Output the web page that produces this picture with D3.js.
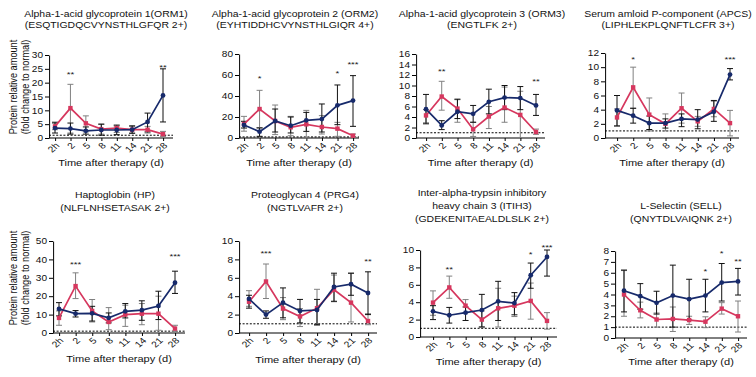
<!DOCTYPE html>
<html>
<head>
<meta charset="utf-8">
<script src="https://cdn.jsdelivr.net/npm/d3@7"></script>
<style>
body { margin: 0; background: #fff; }
svg { display: block; font-family: "Liberation Sans", Arial, Helvetica, sans-serif; fill: #111; }
.axis path, .axis line, .stroke { vector-effect: non-scaling-stroke; }
</style>
</head>
<body>
<div id="chart"></div>
<script>
var days = ["2h", "2", "5", "8", "11", "14", "21", "28"];

var titles = [
    ["Alpha-1-acid glycoprotein 1(ORM1)", "(ESQTIGDQCVYNSTHLGFQR 2+)"],
    ["Alpha-1-acid glycoprotein 2 (ORM2)", "(EYHTIDDHCVYNSTHLGIQR 4+)"],
    ["Alpha-1-acid glycoprotein 3 (ORM3)", "(ENGTLFK 2+)"],
    ["Serum amloid P-component (APCS)", "(LIPHLEKPLQNFTLCFR 3+)"],
    ["Haptoglobin (HP)", "(NLFLNHSETASAK 2+)"],
    ["Proteoglycan 4 (PRG4)", "(NGTLVAFR 2+)"],
    ["Inter-alpha-trypsin inhibitory", "heavy chain 3 (ITIH3)", "(GDEKENITAEALDLSLK 2+)"],
    ["L-Selectin (SELL)", "(QNYTDLVAIQNK 2+)"]
];

var yMax  = [30, 80, 16, 12, 50, 10, 10, 8];
var yStep = [5, 20, 2, 2, 10, 2, 2, 1];

// red series
var redMean = [
    [4.2, 10.8, 5.3, 3.2, 3.6, 3.0, 3.0, 1.4],
    [13.3, 27.6, 16.2, 10.2, 13.0, 10.5, 8.9, 2.2],
    [4.3, 7.9, 5.6, 1.65, 4.1, 5.8, 4.4, 1.15],
    [2.9, 7.15, 3.3, 2.0, 4.2, 2.35, 4.1, 2.1],
    [8.2, 25.5, 12.0, 6.0, 10.0, 10.5, 10.5, 2.4],
    [3.4, 5.6, 2.65, 1.8, 2.7, 4.7, 3.3, 1.3],
    [3.95, 5.7, 3.6, 2.0, 3.3, 3.6, 4.15, 1.85],
    [4.0, 2.55, 1.7, 1.75, 1.65, 1.5, 2.7, 2.0]
];
var redHi = [
    [5.3, 19.4, 8.0, 5.0, 4.8, 4.2, 4.2, 2.4],
    [20.6, 45.4, 31.4, 20.6, 26.3, 21.3, 14.9, 3.8],
    [5.4, 10.8, 7.3, 3.0, 6.0, 9.7, 8.9, 1.7],
    [4.1, 10.0, 5.65, 3.4, 6.35, 3.05, 5.2, 3.9],
    [12.0, 32.7, 18.2, 13.8, 15.1, 16.0, 20.0, 4.2],
    [4.6, 7.5, 3.85, 2.65, 4.75, 6.3, 6.5, 2.1],
    [5.3, 7.0, 4.3, 3.0, 5.6, 4.7, 6.2, 2.8],
    [6.2, 3.3, 2.3, 2.85, 2.0, 1.95, 3.25, 3.4]
];
var redLo = [
    [3.0, 1.8, 2.2, 1.4, 2.0, 1.8, 1.8, 0.5],
    [6.5, 10.0, 3.2, 2.2, 0.0, 3.8, 1.6, 0.6],
    [2.9, 5.3, 3.0, 0.3, 1.8, 3.0, 0.1, 0.7],
    [1.7, 4.2, 1.0, 1.0, 2.1, 1.65, 3.0, 0.3],
    [4.2, 18.7, 6.0, 1.8, 3.6, 4.5, 1.5, 0.9],
    [2.9, 3.75, 1.45, 0.7, 0.85, 3.4, 1.2, 0.9],
    [2.5, 4.45, 2.8, 1.15, 1.15, 2.35, 2.05, 0.9],
    [2.0, 1.85, 1.0, 0.6, 1.25, 0.95, 2.2, 0.55]
];

// navy series
var navyMean = [
    [3.6, 3.4, 2.6, 2.9, 2.9, 3.0, 5.8, 15.4],
    [12.4, 6.0, 16.2, 11.7, 16.8, 18.0, 31.1, 35.6],
    [5.5, 2.4, 5.0, 4.6, 6.9, 7.7, 7.6, 6.2],
    [3.9, 3.15, 2.1, 2.1, 2.7, 2.6, 3.7, 8.95],
    [13.1, 10.5, 10.7, 8.2, 11.8, 12.4, 14.7, 27.3],
    [3.7, 2.0, 3.3, 2.4, 2.5, 5.0, 5.3, 4.35],
    [2.95, 2.5, 2.8, 3.1, 4.1, 3.9, 7.1, 9.2],
    [4.35, 3.85, 3.23, 3.9, 3.57, 3.9, 5.1, 5.2]
];
var navyHi = [
    [5.7, 5.4, 4.0, 5.0, 4.4, 4.4, 9.0, 25.0],
    [15.9, 9.5, 27.6, 20.0, 24.4, 32.4, 50.5, 59.4],
    [8.3, 3.3, 7.4, 6.2, 9.3, 10.0, 9.8, 8.3],
    [6.0, 4.2, 3.1, 2.7, 3.4, 4.0, 5.3, 9.8],
    [16.5, 12.2, 14.5, 10.9, 16.0, 17.5, 22.7, 33.6],
    [4.1, 2.4, 4.9, 3.65, 3.65, 6.5, 6.5, 6.65],
    [3.6, 3.4, 3.45, 4.9, 6.4, 5.1, 8.5, 10.0],
    [6.25, 5.0, 4.3, 6.7, 5.4, 5.4, 6.85, 6.4]
];
var navyLo = [
    [1.8, 1.4, 1.4, 1.0, 1.2, 1.7, 2.2, 5.8],
    [9.5, 1.6, 5.7, 4.8, 6.3, 5.7, 12.7, 11.1],
    [2.7, 1.6, 3.7, 3.0, 4.6, 5.4, 5.4, 4.3],
    [1.7, 2.1, 1.2, 1.4, 1.6, 1.3, 2.35, 8.2],
    [9.3, 8.7, 6.5, 5.5, 8.2, 6.9, 7.3, 21.5],
    [2.7, 1.6, 1.65, 1.1, 0.9, 3.45, 4.1, 2.0],
    [2.0, 1.6, 1.9, 1.15, 1.9, 2.55, 5.6, 7.0],
    [2.4, 2.65, 2.2, 1.0, 1.65, 2.4, 3.4, 3.95]
];

// significance marks: [day index, mark, height in data units]
var stars = [
    [[1, "**", 23.6], [7, "**", 26.2]],
    [[1, "*", 58], [6, "*", 63.5], [7, "***", 72]],
    [[1, "**", 13.1], [7, "**", 11.2]],
    [[1, "*", 11.4], [7, "***", 11.3]],
    [[1, "***", 38.2], [7, "***", 42.7]],
    [[1, "***", 8.8], [7, "**", 8.0]],
    [[1, "**", 8.0], [6, "*", 9.7], [7, "***", 10.45]],
    [[5, "*", 6.3], [6, "*", 7.95], [7, "**", 7.2]]
];

var baseline = 1;

// the figure is stretched sideways, so draw in a narrower box and let the viewBox widen it
var K = 1.2;
var W = 756, H = 377;
function sx(v) { return v / K; }

// panel frames in screen px: axis left/right, first/last point, top and zero of y
var frames = [
    {axL: 49,  axR: 173, p0: 55,  p7: 163, top: 55,  zero: 138, titleX: 106, titleY: [17, 28], labY: 166},
    {axL: 239, axR: 359, p0: 244, p7: 353, top: 54,  zero: 138, titleX: 295, titleY: [17, 28], labY: 166},
    {axL: 416, axR: 545, p0: 426, p7: 536, top: 54,  zero: 138, titleX: 482, titleY: [17, 28], labY: 166},
    {axL: 605, axR: 739, p0: 617, p7: 730, top: 53,  zero: 138, titleX: 668, titleY: [17, 28], labY: 166},
    {axL: 53,  axR: 185, p0: 59,  p7: 175, top: 241, zero: 333, titleX: 115, titleY: [198, 211], labY: 362},
    {axL: 239, axR: 377, p0: 249, p7: 368, top: 241, zero: 333, titleX: 305, titleY: [198, 211], labY: 363},
    {axL: 420, axR: 557, p0: 433, p7: 547, top: 250, zero: 337, titleX: 482, titleY: [196, 209, 222], labY: 365},
    {axL: 615, axR: 747, p0: 624, p7: 738, top: 251, zero: 338, titleX: 681, titleY: [209, 222], labY: 365}
];

var red = "#d6375e", navy = "#172a6b";

var svg = d3.select("#chart")
    .append("svg")
        .attr("width", W)
        .attr("height", H)
        .attr("viewBox", "0 0 " + (W / K) + " " + H)
        .attr("preserveAspectRatio", "none");

// shared y axis titles
[87, 278].forEach(function(cy) {
    svg.append("text")
        .attr("transform", "translate(" + sx(16.5) + "," + cy + ")rotate(-90)")
        .attr("text-anchor", "middle")
        .style("font-size", "9.2px")
        .text("Protein relative amount");
    svg.append("text")
        .attr("transform", "translate(" + sx(29) + "," + cy + ")rotate(-90)")
        .attr("text-anchor", "middle")
        .style("font-size", "9.2px")
        .text("(fold change to normal)");
});

frames.forEach(function(f, i) {
    var g = svg.append("g");

    var x = d3.scalePoint()
        .domain(days)
        .range([sx(f.p0), sx(f.p7)]);

    var y = d3.scaleLinear()
        .domain([0, yMax[i]])
        .range([f.zero, f.top]);

    // title
    titles[i].forEach(function(line, k) {
        g.append("text")
            .attr("x", sx(f.titleX))
            .attr("y", f.titleY[k])
            .attr("text-anchor", "middle")
            .style("font-size", "8.7px")
            .text(line);
    });

    // y axis
    g.append("g")
        .attr("class", "axis")
        .attr("transform", "translate(" + sx(f.axL) + ",0)")
        .call(d3.axisLeft(y)
            .tickValues(d3.range(0, yMax[i] + 1e-6, yStep[i]))
            .tickSize(sx(4))
            .tickSizeOuter(0)
            .tickPadding(sx(2)))
        .call(function(a) {
            a.selectAll("text").style("font-size", "8.4px").attr("fill", "#111");
        });

    // x axis
    var xa = g.append("g")
        .attr("class", "axis")
        .attr("transform", "translate(0," + f.zero + ")")
        .call(d3.axisBottom(x).tickSize(3).tickSizeOuter(0));
    xa.select(".domain").remove();
    xa.append("line")
        .attr("x1", sx(f.axL))
        .attr("x2", sx(f.axR))
        .attr("stroke", "#000");
    xa.selectAll("text")
        .attr("x", 0)
        .attr("y", 0)
        .attr("dy", "0.35em")
        .attr("transform", "translate(" + sx(2) + ",6)rotate(-45)")
        .style("text-anchor", "end")
        .style("font-size", "8.6px")
        .attr("fill", "#111");

    // x axis title
    g.append("text")
        .attr("x", sx((f.axL + f.axR) / 2))
        .attr("y", f.labY)
        .attr("text-anchor", "middle")
        .style("font-size", "9.2px")
        .text("Time after therapy (d)");

    // dotted baseline at 1
    g.append("line")
        .attr("class", "stroke")
        .attr("x1", sx(f.axL))
        .attr("x2", sx(f.axR))
        .attr("y1", y(baseline))
        .attr("y2", y(baseline))
        .attr("stroke", "#000")
        .attr("stroke-width", 1)
        .attr("stroke-dasharray", "2,1.6");

    var series = [
        {mean: redMean[i], hi: redHi[i], lo: redLo[i], color: red, bar: "#808080", shape: "square"},
        {mean: navyMean[i], hi: navyHi[i], lo: navyLo[i], color: navy, bar: "#111", shape: "circle"}
    ];

    var cap = sx(3);

    series.forEach(function(s) {
        var pts = days.map(function(d, j) {
            return {day: d, m: s.mean[j], hi: s.hi[j], lo: s.lo[j]};
        });

        var eb = g.append("g").attr("stroke", s.bar).attr("stroke-width", 1);
        eb.selectAll(".v").data(pts).enter().append("line")
            .attr("class", "stroke")
            .attr("x1", function(d) { return x(d.day); })
            .attr("x2", function(d) { return x(d.day); })
            .attr("y1", function(d) { return y(d.hi); })
            .attr("y2", function(d) { return y(d.lo); });
        eb.selectAll(".ch").data(pts).enter().append("line")
            .attr("class", "stroke")
            .attr("x1", function(d) { return x(d.day) - cap; })
            .attr("x2", function(d) { return x(d.day) + cap; })
            .attr("y1", function(d) { return y(d.hi); })
            .attr("y2", function(d) { return y(d.hi); });
        eb.selectAll(".cl").data(pts).enter().append("line")
            .attr("class", "stroke")
            .attr("x1", function(d) { return x(d.day) - cap; })
            .attr("x2", function(d) { return x(d.day) + cap; })
            .attr("y1", function(d) { return y(d.lo); })
            .attr("y2", function(d) { return y(d.lo); });
    });

    series.forEach(function(s) {
        var pts = days.map(function(d, j) { return {day: d, m: s.mean[j]}; });

        g.append("path")
            .datum(pts)
            .attr("class", "stroke")
            .attr("fill", "none")
            .attr("stroke", s.color)
            .attr("stroke-width", 1.7)
            .attr("d", d3.line()
                .x(function(d) { return x(d.day); })
                .y(function(d) { return y(d.m); }));

        if (s.shape == "square") {
            g.selectAll(null).data(pts).enter().append("rect")
                .attr("x", function(d) { return x(d.day) - sx(2.2); })
                .attr("y", function(d) { return y(d.m) - 2.2; })
                .attr("width", sx(4.4))
                .attr("height", 4.4)
                .attr("fill", s.color);
        } else {
            g.selectAll(null).data(pts).enter().append("ellipse")
                .attr("cx", function(d) { return x(d.day); })
                .attr("cy", function(d) { return y(d.m); })
                .attr("rx", sx(2.4))
                .attr("ry", 2.4)
                .attr("fill", s.color);
        }
    });

    // significance stars
    g.selectAll(".star").data(stars[i]).enter().append("text")
        .attr("x", function(d) { return x(days[d[0]]); })
        .attr("y", function(d) { return y(d[2]); })
        .attr("dy", "0.55em")
        .attr("text-anchor", "middle")
        .style("font-size", "8px")
        .attr("fill", "#222")
        .text(function(d) { return d[1]; });
});
</script>
</body>
</html>
